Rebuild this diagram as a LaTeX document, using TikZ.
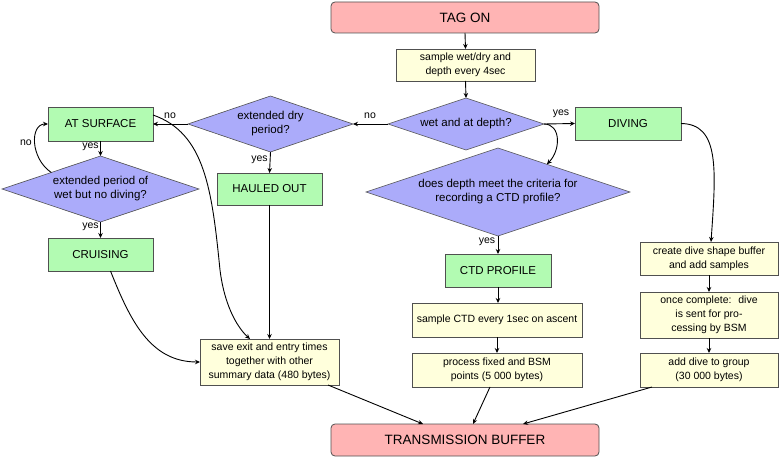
\documentclass[tikz,border=0pt]{standalone}
\usepackage{fontspec}
\setmainfont{Liberation Sans}
\usetikzlibrary{shapes.geometric,arrows.meta,calc}
\definecolor{pinkfill}{HTML}{FFB4B4}
\definecolor{greenfill}{HTML}{B2FBB2}
\definecolor{yellowfill}{HTML}{FFFFDC}
\definecolor{lavfill}{HTML}{ABABFA}
\definecolor{edgegray}{HTML}{505050}
\begin{document}
\begin{tikzpicture}[x=1pt,y=-1pt,
  every node/.style={inner sep=0pt,outer sep=0pt},
  endbox/.style={draw=edgegray,fill=pinkfill,rounded corners=4pt,line width=0.8pt,font=\fontsize{13.5}{16}\selectfont},
  statebox/.style={draw=edgegray,fill=greenfill,line width=0.8pt,minimum width=105pt,minimum height=33pt,font=\fontsize{11.5}{14}\selectfont},
  actbox/.style={draw=edgegray,fill=yellowfill,line width=0.8pt,align=center,font=\fontsize{10.5}{13.8}\selectfont},
  decision/.style={diamond,draw=edgegray,fill=lavfill,line width=0.6pt,align=center,font=\fontsize{11.5}{14}\selectfont},
  lbl/.style={font=\fontsize{10.5}{12}\selectfont},
  conn/.style={draw=black,line width=0.9pt,-{Stealth[length=5pt,width=4.5pt]}},
  plain/.style={draw=black,line width=0.9pt}]
\useasboundingbox (0,0) rectangle (779,457);
% nodes
\node[endbox,minimum width=268pt,minimum height=31pt] (tagon) at (465,17.5) {TAG ON};
\node[endbox,minimum width=268pt,minimum height=32pt] (tb) at (465,440) {TRANSMISSION BUFFER};
\node[actbox,minimum width=139pt,minimum height=32pt] (sample) at (465.5,65) {sample wet/dry and\\depth every 4sec};
\node[decision,shape aspect=3,minimum width=156pt,minimum height=52pt] (wet) at (466,124) {wet and at depth?};
\node[decision,shape aspect=2.95,minimum width=165pt,minimum height=56pt] (dry) at (270.5,124) {extended dry\\period?};
\node[statebox,minimum height=34pt] (atsurf) at (100.5,124) {AT SURFACE};
\node[statebox,minimum height=32pt] (hauled) at (269.5,189) {HAULED OUT};
\node[decision,shape aspect=2.98,minimum width=197pt,minimum height=66pt] (extwet) at (100.5,189) {extended period of\\wet but no diving?};
\node[statebox] (cruising) at (100.5,254.5) {CRUISING};
\node[actbox,minimum width=139pt,minimum height=46pt] (save) at (269.5,362) {save exit and entry times\\together with other\\summary data (480 bytes)};
\node[statebox,minimum width=106pt] (diving) at (628,123.5) {DIVING};
\node[decision,shape aspect=3,minimum width=264pt,minimum height=88pt] (ctd) at (498,192) {does depth meet the criteria for\\recording a CTD profile?};
\node[statebox,minimum width=106pt] (ctdprof) at (498,270.5) {CTD PROFILE};
\node[actbox,minimum width=170pt,minimum height=34pt] (sampctd) at (497,320) {sample CTD every 1sec on ascent};
\node[actbox,minimum width=170pt,minimum height=34pt] (process) at (497,370) {process fixed and BSM\\points (5 000 bytes)};
\node[actbox,minimum width=138pt,minimum height=33pt] (create) at (709,258.5) {create dive shape buffer\\and add samples};
\node[actbox,minimum width=138pt,minimum height=46pt] (once) at (709,315) {once complete:~ dive\\is sent for pro-\\cessing by BSM};
\node[actbox,minimum width=138pt,minimum height=34pt] (add) at (709,370) {add dive to group\\(30 000 bytes)};
% labels
\node[lbl] (l1) at (370,116) {no};
\node[lbl] (l2) at (170,116) {no};
\node[lbl] (l3) at (259.5,160) {yes};
\node[lbl] (l4) at (90.5,147) {yes};
\node[lbl] (l5) at (90.5,227) {yes};
\node[lbl] (l6) at (26,143) {no};
\node[lbl] (l7) at (561,114) {yes};
\node[lbl] (l8) at (487,242) {yes};
% connectors
\draw[conn] (tagon.south) -- (sample.north);
\draw[conn] (sample.south) -- (wet.north);
\draw[conn] (wet.west) -- (dry.east);
\draw[conn] (dry.west) -- (atsurf.east);
\draw[conn] (dry.south) -- (hauled.north);
\draw[conn] (atsurf.south) -- (extwet.north);
\draw[conn] (extwet.north west) .. controls (30,158) and (30,124) .. (atsurf.west);
\draw[conn] (extwet.south) -- (cruising.north);
\draw[conn] ([xshift=10pt]cruising.south) .. controls (130,320) and (150,362) .. (save.west);
\draw[conn] ([yshift=9pt]atsurf.east) .. controls (205,133) and (212,190) .. (220,270) .. controls (225,310) and (240,330) .. ([xshift=-19.5pt]save.north);
\draw[conn] (hauled.south) -- (hauled.south |- save.north);
\draw[conn] ([xshift=-11pt]save.south east) -- ([xshift=-42pt]tb.north);
\draw[conn] (wet.east) -- (diving.west);
\draw[conn] (wet.east) .. controls (561,124) and (561,150) .. ($(ctd.north)!0.37!(ctd.east)$);
\draw[conn] (ctd.south) -- (ctdprof.north);
\draw[conn] (ctdprof.south) -- (ctdprof.south |- sampctd.north);
\draw[conn] (sampctd.south) -- (process.north);
\draw[conn] ([xshift=-7pt]process.south) -- ([xshift=8pt]tb.north);
\draw[conn] (diving.east) .. controls (720,124) and (716,170) .. ([xshift=2pt]create.north);
\draw[conn] (create.south) -- (once.north);
\draw[conn] (once.south) -- (add.north);
\draw[conn] ([xshift=12pt]add.south west) -- ([xshift=58pt]tb.north);
\end{tikzpicture}
\end{document}
